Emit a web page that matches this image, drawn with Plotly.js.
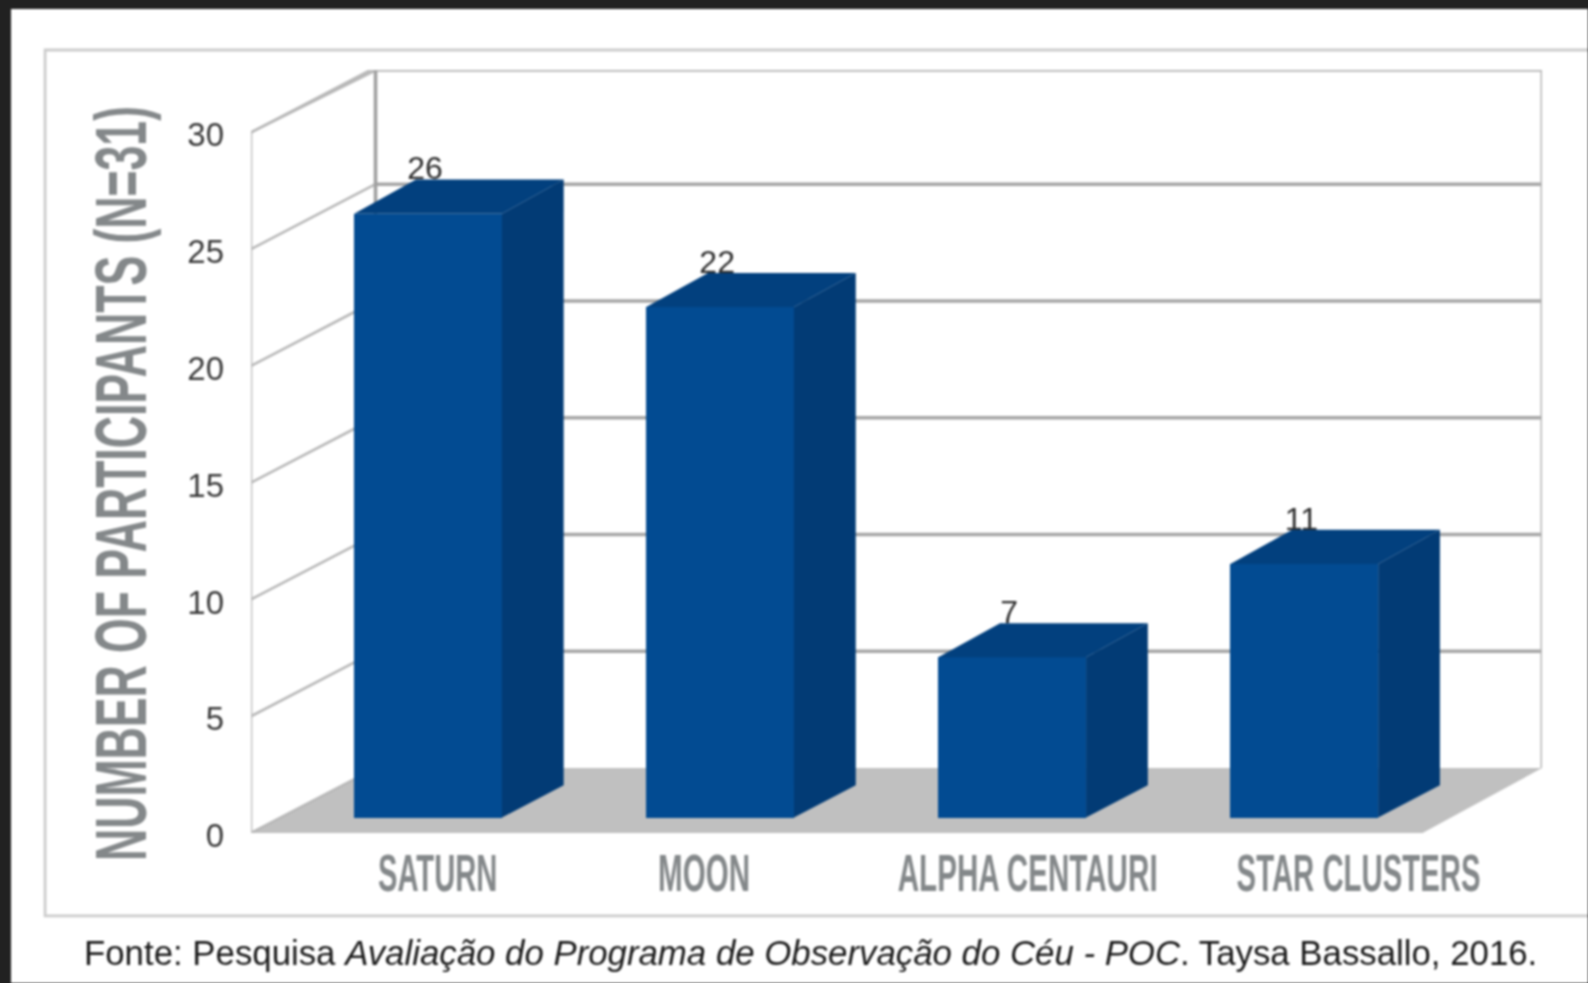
<!DOCTYPE html>
<html>
<head>
<meta charset="utf-8">
<script src="https://cdn.plot.ly/plotly-3.0.1.min.js"></script>
<style>
html,body{margin:0;padding:0;width:1588px;height:983px;overflow:hidden;background:#212121;}
#chart{position:absolute;left:11px;top:9px;width:1577px;height:974px;background:#fff;filter:blur(0.9px);}
</style>
</head>
<body>
<div id="chart"></div>
<script>
// ---- data ----
const categories = ["SATURN", "MOON", "ALPHA CENTAURI", "STAR CLUSTERS"];
const values = [26, 22, 7, 11];
const yTicks = [0, 5, 10, 15, 20, 25, 30];
const yAxisTitle = "NUMBER OF PARTICIPANTS (N=31)";
const sourceNote = "Fonte: Pesquisa <i>Avaliação do Programa de Observação do Céu - POC</i>. Taysa Bassallo, 2016.";

// ---- styling / layout ----
const W = 1577, H = 974;
const margin = {l: 240, r: 45.5, t: 61, b: 149.5, pad: 0};
const xRange = [-0.606, 3.814], yRange = [0, 32.67];
const labelSlots = [0.033, 0.945, 2.053, 3.186];   // tick label centres, in category units
const labelWidths = [119.5, 92, 260, 244];         // px
const wallDx = 0.4264, wallDy = 2.78;              // oblique projection of the box
const floorRightFront = 3.405;
const barDx = 0.2115, barDy = 1.387, barTopDy = 1.46; // oblique projection of a bar
const barWidth = 0.506, barBase = 0.66, barTopShift = 0.52;
const colFront = "#024b92", colSide = "#023b75", colTop = "#02407e";
const textGrey = "#84888a";

const px = v => (v - margin.l) / (W - margin.l - margin.r);
const py = v => 1 - (v - margin.t) / (H - margin.t - margin.b);

const wallX = xRange[0], backX = wallX + wallDx, rightX = xRange[1];
const topBack = yRange[1] - 0.01;

function line(x0, y0, x1, y1, color, width) {
  return {type: "line", xref: "x", yref: "y", layer: "below", x0, y0, x1, y1,
          line: {color, width}};
}
const shapes = [];
// outer picture frame
shapes.push({type: "rect", xref: "paper", yref: "paper", layer: "below",
  x0: px(34), x1: px(1620), y0: py(41), y1: py(907.5),
  line: {color: "#cccccc", width: 2.8}, fillcolor: "rgba(0,0,0,0)"});
// floor
shapes.push({type: "path", xref: "x", yref: "y", layer: "below",
  path: `M${wallX},0 L${backX},${wallDy} L${rightX},${wallDy} L${floorRightFront},0 Z`,
  fillcolor: "#c0c0c0", line: {width: 0}});
// back wall + side wall grid, built from the tick values
yTicks.forEach(t => {
  if (t > 0) shapes.push(line(backX, t + wallDy, rightX, t + wallDy, "#a6a6a6", 3.6));
  shapes.push(line(wallX, t, backX, t + wallDy, "#b8b8b8", 2.6));
});
shapes.push(line(backX, topBack, rightX, topBack, "#b6b6b6", 3));
shapes.push(line(wallX, 0, wallX, 30, "#bcbcbc", 2.6));
shapes.push(line(wallX, 30, backX, topBack, "#b8b8b8", 2.6));
shapes.push(line(backX, wallDy, backX, topBack, "#a0a0a0", 3.6));
shapes.push(line(rightX, wallDy, rightX, topBack, "#b6b6b6", 3));

const xs = categories.map((_, i) => i);
const tops = values.map(v => barTopShift + v);

const traces = [{
  type: "bar", x: xs, y: tops.map(t => t - barBase), base: values.map(() => barBase),
  width: barWidth, marker: {color: colFront, line: {width: 0}},
  hoverinfo: "skip", showlegend: false
}, {
  type: "scatter", mode: "text", x: xs.map(i => i - 0.01),
  y: values.map(v => v + 2.33), text: values.map(String),
  textposition: "middle center",
  textfont: {family: "Liberation Sans, Arial, sans-serif", size: 32, color: "#2e2e2e"},
  hoverinfo: "skip", showlegend: false
}];
xs.forEach(i => {
  const xr = i + barWidth / 2, xl = i - barWidth / 2, top = tops[i];
  traces.push({
    type: "scatter", mode: "none", fill: "toself", fillcolor: colSide,
    x: [xr, xr + barDx, xr + barDx, xr, xr],
    y: [barBase, barBase + barDy, top + barTopDy, top, barBase],
    hoverinfo: "skip", showlegend: false
  });
  traces.push({
    type: "scatter", mode: "none", fill: "toself", fillcolor: colTop,
    x: [xl, xl + barDx, xr + barDx, xr, xl],
    y: [top, top + barTopDy, top + barTopDy, top, top],
    hoverinfo: "skip", showlegend: false
  });
});

const layout = {
  width: W, height: H, margin, showlegend: false,
  paper_bgcolor: "#ffffff", plot_bgcolor: "rgba(0,0,0,0)",
  bargap: 0,
  xaxis: {
    type: "linear", range: xRange, showgrid: false, zeroline: false, showline: false,
    tickmode: "array", tickvals: labelSlots, ticktext: categories, tickangle: 0,
    ticks: "", ticklabelstandoff: 14,
    tickfont: {family: "Liberation Sans Narrow, Liberation Sans, sans-serif", size: 38, color: textGrey, weight: 700}
  },
  yaxis: {
    range: yRange, showgrid: false, zeroline: false, showline: false,
    tickmode: "array", tickvals: yTicks, ticktext: yTicks.map(String),
    ticks: "", ticklabelstandoff: 26,
    tickfont: {family: "Liberation Sans, Arial, sans-serif", size: 33, color: "#3a3a3a"},
    title: {text: yAxisTitle, standoff: 30,
      font: {family: "Liberation Sans Narrow, Liberation Sans, sans-serif", size: 44, color: textGrey, weight: 700}}
  },
  shapes,
  annotations: [{
    xref: "paper", yref: "paper", x: px(71), y: py(944), xanchor: "left", yanchor: "middle",
    text: sourceNote, showarrow: false,
    font: {family: "Liberation Sans, Arial, sans-serif", size: 34.8, color: "#1a1a1a"}
  }]
};

Plotly.newPlot("chart", traces, layout, {displayModeBar: false, staticPlot: true}).then(gd => {
  // the original uses a tall condensed display face: fit the real text to its measured shape
  const fit = (el, width, stretch, dx, dy) => {
    if (width) { el.setAttribute("textLength", width); el.setAttribute("lengthAdjust", "spacingAndGlyphs"); }
    const x = +el.getAttribute("x") || 0, y = +el.getAttribute("y") || 0;
    const t = el.getAttribute("transform") || "";
    el.setAttribute("transform",
      `translate(${dx},${dy}) ${t} translate(${x},${y}) scale(1,${stretch}) translate(${-x},${-y})`);
  };
  gd.querySelectorAll(".xtick text").forEach((el, i) => fit(el, labelWidths[i], 1.368, 0, 5.5));
  gd.querySelectorAll(".ytick text").forEach(el => fit(el, 0, 1, 0, 2.5));
  const yt = gd.querySelector(".ytitle");
  if (yt) fit(yt, 755, 1.636, 4, 32);
});
</script>
</body>
</html>
